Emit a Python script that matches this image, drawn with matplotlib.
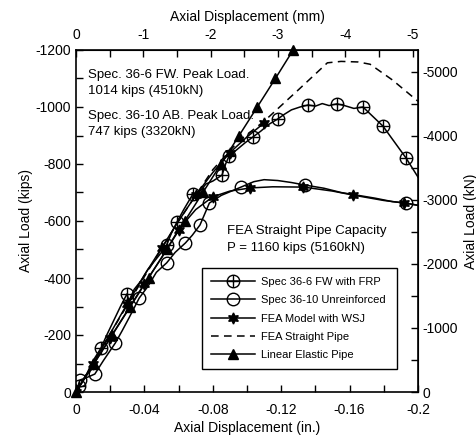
import matplotlib
matplotlib.use("Agg")
import matplotlib.pyplot as plt
import numpy as np
from matplotlib.path import Path
from matplotlib.ticker import MultipleLocator

plt.rcParams['font.family'] = ['Liberation Sans', 'DejaVu Sans']
plt.rcParams['axes.unicode_minus'] = False

# ---- data (x: axial displacement in inches, y: axial load in kips) ----
fw_x = [0, -0.002, -0.006, -0.010, -0.0146, -0.018, -0.022, -0.026, -0.0298, -0.031, -0.034,
        -0.038, -0.042, -0.046, -0.050, -0.053, -0.056, -0.059, -0.063, -0.0684, -0.072,
        -0.076, -0.080, -0.0854, -0.0875, -0.0895, -0.094, -0.099, -0.1035, -0.108, -0.113,
        -0.118, -0.122, -0.126, -0.131, -0.1357, -0.140, -0.144, -0.148, -0.1526, -0.157,
        -0.1625, -0.1678, -0.1795, -0.193, -0.2]
fw_y = [0, -20, -60, -110, -154, -200, -250, -300, -344, -320, -360, -390, -430, -460, -490,
        -516, -560, -596, -640, -695, -700, -730, -740, -761, -800, -828, -850, -875, -895,
        -915, -940, -958, -975, -990, -1000, -1007, -1003, -1012, -1005, -1011, -1005, -995,
        -1000, -933, -821, -754]
fw_marks = [1, 4, 8, 15, 17, 19, 23, 25, 28, 31, 35, 39, 42, 43, 44]

ab_x = [0, -0.0023, -0.006, -0.011, -0.016, -0.023, -0.027, -0.031, -0.037, -0.042, -0.047,
        -0.053, -0.058, -0.064, -0.068, -0.0725, -0.078, -0.085, -0.0965, -0.104, -0.11,
        -0.118, -0.126, -0.134, -0.145, -0.155, -0.165, -0.175, -0.185, -0.193, -0.2]
ab_y = [0, -42, -50, -63, -110, -172, -215, -260, -330, -370, -420, -453, -490, -523, -550,
        -586, -663, -690, -719, -738, -745, -742, -735, -726, -715, -700, -690, -680, -668,
        -663, -655]
ab_marks = [1, 3, 5, 8, 11, 13, 15, 16, 18, 23, 29]

wsj_lo_x = [0, -0.01, -0.02, -0.03, -0.04, -0.05, -0.06, -0.07, -0.08, -0.09, -0.102, -0.115,
            -0.133, -0.15, -0.162, -0.18, -0.192, -0.2]
wsj_lo_y = [0, -95, -190, -285, -380, -470, -570, -640, -685, -705, -716, -720, -719, -705,
            -691, -672, -663, -655]
wsj_lo_marks = [0, 2, 4, 6, 8, 10, 12, 14, 16]

wsj_hi_x = [0, -0.01, -0.02, -0.03, -0.04, -0.05, -0.06, -0.07, -0.08, -0.09, -0.1, -0.11]
wsj_hi_y = [0, -100, -205, -310, -410, -505, -600, -690, -770, -840, -895, -944]
wsj_hi_marks = [1, 3, 5, 7, 9, 11]

fea_x = [0, -0.02, -0.04, -0.06, -0.08, -0.095, -0.11, -0.13, -0.147, -0.155, -0.165, -0.172,
         -0.185, -0.2]
fea_y = [0, -205, -405, -600, -780, -880, -950, -1060, -1155, -1160, -1158, -1150, -1095,
         -1020]

lin_x = [0, -0.0106, -0.0212, -0.0318, -0.0424, -0.053, -0.0636, -0.0742, -0.0848, -0.0954,
         -0.106, -0.1166, -0.127]
lin_y = [0, -100, -200, -300, -400, -500, -600, -700, -800, -900, -1000, -1100, -1200]

labels = ["Spec 36-6 FW with FRP", "Spec 36-10 Unreinforced", "FEA Model with WSJ",
          "FEA Straight Pipe", "Linear Elastic Pipe"]

# ---- markers ----
circ = Path.unit_circle()
oplus = Path.make_compound_path(
    circ,
    Path([(-1, 0), (1, 0)], [Path.MOVETO, Path.LINETO]),
    Path([(0, -1), (0, 1)], [Path.MOVETO, Path.LINETO]))

fig = plt.figure(figsize=(4.77, 4.38), dpi=100)
ax = fig.add_axes([76/477, 1-392/438, (418-76)/477, (392-50)/438])

lw = 1.1
h1, = ax.plot(fw_x, fw_y, color='k', lw=lw, marker=oplus, ms=9, mfc='none', mec='k',
              mew=1.0, markevery=fw_marks, label=labels[0])
h2, = ax.plot(ab_x, ab_y, color='k', lw=lw, marker='o', ms=9, mfc='none', mec='k',
              mew=1.0, markevery=ab_marks, label=labels[1])
h3, = ax.plot(wsj_lo_x, wsj_lo_y, color='k', lw=lw, marker=(6, 1, 0), ms=8, mfc='k',
              mec='k', markevery=wsj_lo_marks, label=labels[2])
ax.plot(wsj_hi_x, wsj_hi_y, color='k', lw=lw, marker=(6, 1, 0), ms=8, mfc='k', mec='k',
        markevery=wsj_hi_marks)
h4, = ax.plot(fea_x, fea_y, color='k', lw=lw, ls=(0, (5, 3.5)), label=labels[3])
h5, = ax.plot(lin_x, lin_y, color='k', lw=lw, marker='^', ms=6.5, mfc='k', mec='k',
              label=labels[4], clip_on=False)

ax.set_xlim(0, -0.2)
ax.set_ylim(0, -1200)
ax.xaxis.set_major_locator(MultipleLocator(0.04))
ax.xaxis.set_minor_locator(MultipleLocator(0.02))
ax.yaxis.set_major_locator(MultipleLocator(200))
ax.yaxis.set_minor_locator(MultipleLocator(100))
ax.set_xticks([0, -0.04, -0.08, -0.12, -0.16, -0.2])
ax.set_xticklabels(["0", "-0.04", "-0.08", "-0.12", "-0.16", "-0.2"])
ax.tick_params(which='both', direction='in', length=5, width=1.0, labelsize=10,
               top=False, right=False)
ax.tick_params(axis='x', pad=8)
for s in ax.spines.values():
    s.set_linewidth(1.2)

ax.set_xlabel("Axial Displacement (in.)", fontsize=10, labelpad=3)
ax.set_ylabel("Axial Load (kips)", fontsize=10, labelpad=2)

top = ax.secondary_xaxis('top', functions=(lambda v: v * 25.4, lambda v: v / 25.4))
top.xaxis.set_major_locator(MultipleLocator(1))
top.xaxis.set_minor_locator(MultipleLocator(0.5))
top.set_xticks([0, -1, -2, -3, -4, -5])
top.set_xticklabels(["0", "-1", "-2", "-3", "-4", "-5"])
top.tick_params(which='both', direction='in', length=5, width=1.0, labelsize=10, pad=6)
top.set_xlabel("Axial Displacement (mm)", fontsize=10, labelpad=5)

right = ax.secondary_yaxis('right', functions=(lambda v: v * 4.448, lambda v: v / 4.448))
right.yaxis.set_major_locator(MultipleLocator(1000))
right.yaxis.set_minor_locator(MultipleLocator(500))
right.set_yticks([0, -1000, -2000, -3000, -4000, -5000])
right.set_yticklabels(["0", "-1000", "-2000", "-3000", "-4000", "-5000"])
right.tick_params(which='both', direction='in', length=5, width=1.0, labelsize=10)
right.set_ylabel("Axial Load (kN)", fontsize=10, labelpad=4)

tk = dict(transform=fig.transFigure, fontsize=9.5, ha='left', va='center')
fig.text(88/477, 1-75/438, "Spec. 36-6 FW. Peak Load.", **tk)
fig.text(88/477, 1-91/438, "1014 kips (4510kN)", **tk)
fig.text(88/477, 1-116/438, "Spec. 36-10 AB. Peak Load.", **tk)
fig.text(88/477, 1-132/438, "747 kips (3320kN)", **tk)
fig.text(227/477, 1-231/438, "FEA Straight Pipe Capacity", **tk)
fig.text(227/477, 1-248/438, "P = 1160 kips (5160kN)", **tk)

leg = ax.legend(handles=[h1, h2, h3, h4, h5], loc='upper left', mode='expand',
                bbox_to_anchor=((202-76)/342, (392-369)/342, (397-202)/342, (369-268)/342),
                fontsize=8, frameon=True, fancybox=False, edgecolor='k', framealpha=1,
                handlelength=4.0, handletextpad=0.5, borderpad=0.8, labelspacing=0.75,
                borderaxespad=0)
leg.get_frame().set_linewidth(1.0)

fig.savefig("out.png", dpi=100)
